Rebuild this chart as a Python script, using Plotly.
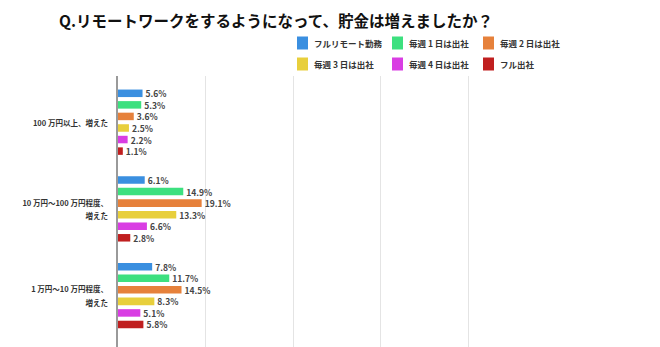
import plotly.graph_objects as go

# Categories (top to bottom) and per-series shares (%)
categories = [
    "100 万円以上、増えた",
    "10 万円～100 万円程度、<br>増えた",
    "1 万円～10 万円程度、<br>増えた",
]
series_names = ["フルリモート勤務", "毎週 1 日は出社", "毎週 2 日は出社",
                "毎週 3 日は出社", "毎週 4 日は出社", "フル出社"]
full_remote = [5.6, 6.1, 7.8]
office_1day = [5.3, 14.9, 11.7]
office_2day = [3.6, 19.1, 14.5]
office_3day = [2.5, 13.3, 8.3]
office_4day = [2.2, 6.6, 5.1]
full_office = [1.1, 2.8, 5.8]
series_values = [full_remote, office_1day, office_2day,
                 office_3day, office_4day, full_office]
colors = ["#3a8fe0", "#3de07f", "#e6813b", "#e8cf3c", "#d93de3", "#c01f1f"]

FONT = "Noto Sans CJK JP"
W, H = 660, 347
L, R, T, B = 118, 104, 76, 0
PW, PH = W - L - R, H - T - B


def px_to_paper(x, y):
    return (x - L) / PW, (H - B - y) / PH


fig = go.Figure()
for name, vals, col in zip(series_names, series_values, colors):
    fig.add_trace(go.Bar(
        y=categories, x=vals, name=name, orientation="h",
        marker=dict(color=col, line=dict(width=0)),
        texttemplate="<b>%{x:.1f}%</b>", textposition="outside",
        constraintext="none",
        textfont=dict(family=FONT, size=8.5, color="#444444"),
        cliponaxis=False, showlegend=False,
    ))

# Legend: two rows of three colour swatches with labels
legend_cols = [297, 392, 483]
legend_rows = [43, 64]
for i, (name, col) in enumerate(zip(series_names, colors)):
    cx = legend_cols[i % 3]
    cy = legend_rows[i // 3]
    x0, y0 = px_to_paper(cx, cy + 6.5)
    x1, y1 = px_to_paper(cx + 11, cy - 6.5)
    fig.add_shape(type="rect", xref="paper", yref="paper",
                  x0=x0, x1=x1, y0=y0, y1=y1,
                  fillcolor=col, line=dict(width=0))
    tx, ty = px_to_paper(cx + 15, cy)
    fig.add_annotation(xref="paper", yref="paper", x=tx, y=ty,
                       text=f"<b>{name}</b>", showarrow=False,
                       xanchor="left", yanchor="middle",
                       font=dict(family=FONT, size=8.5, color="#333333"))

# Title
tx, ty = px_to_paper(57, 20)
fig.add_annotation(xref="paper", yref="paper", x=tx, y=ty,
                   text="<b>Q.リモートワークをするようになって、貯金は増えましたか？</b>",
                   showarrow=False, xanchor="left", yanchor="middle",
                   font=dict(family=FONT, size=15.5, color="#111111"))


def tick_label(c):
    # small bold text on a taller line pitch
    lines = c.split("<br>")
    return "<br>".join(f"<span style='font-size:7.5px'><b>{ln}</b></span>" for ln in lines)


fig.update_layout(
    width=W, height=H,
    margin=dict(l=L, r=R, t=T, b=B, pad=0),
    paper_bgcolor="white", plot_bgcolor="white",
    barmode="group", bargap=0.2, bargroupgap=0.35,
    font=dict(family=FONT),
    xaxis=dict(range=[0, 100], dtick=20, showgrid=True, gridcolor="#e4e4e4",
               gridwidth=1, zeroline=False, showticklabels=False, ticks="",
               showline=False, fixedrange=True),
    yaxis=dict(range=[2.593, -0.533], showline=True, linecolor="#9a9a9a",
               linewidth=2, ticks="outside", ticklen=6, tickcolor="rgba(0,0,0,0)",
               tickfont=dict(family=FONT, size=10.4, color="#333333"),
               showgrid=False, zeroline=False),
)
fig.update_yaxes(tickvals=categories,
                 ticktext=[tick_label(c) for c in categories])

fig.write_html("out.html")
